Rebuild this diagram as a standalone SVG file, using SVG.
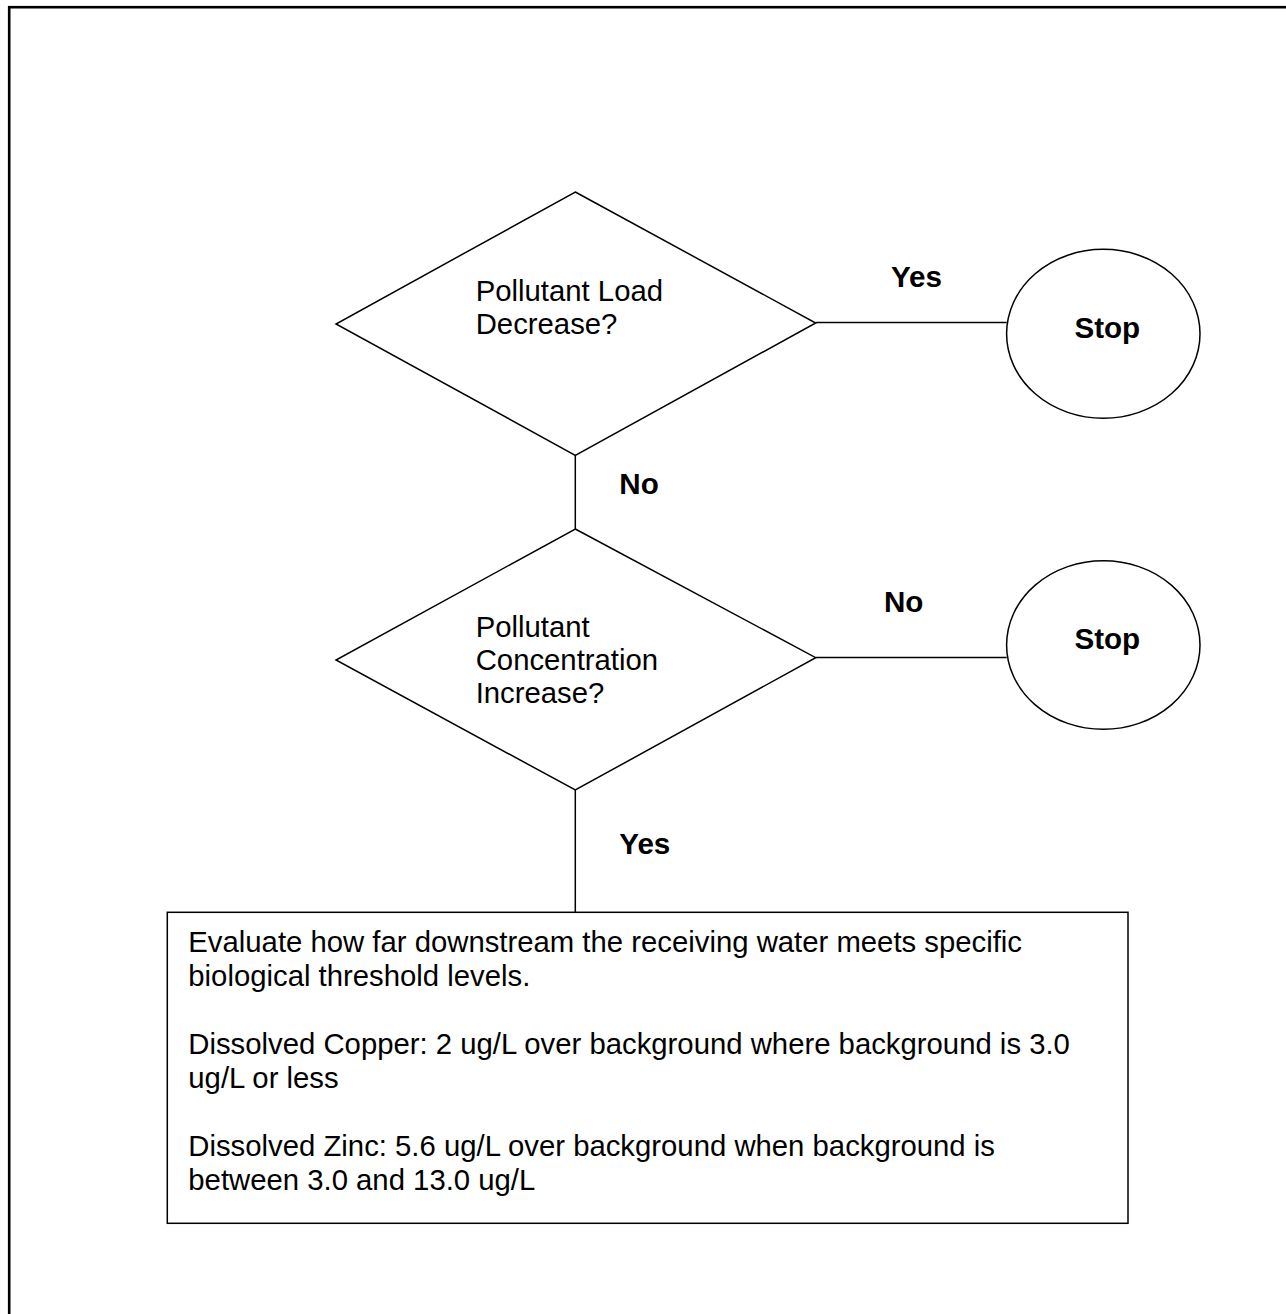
<svg xmlns="http://www.w3.org/2000/svg" width="1286" height="1314" viewBox="0 0 1286 1314">
<style>
.shape{fill:#fff;stroke:#000;stroke-width:1.5}
.conn{stroke:#000;stroke-width:1.5;fill:none}
.t{font-family:"Liberation Sans",Arial,sans-serif;font-size:29.3px;fill:#000}
.b{font-family:"Liberation Sans",Arial,sans-serif;font-size:29.6px;font-weight:bold;fill:#000}
</style>
<rect x="0" y="0" width="1286" height="1314" fill="#fff"/>
<rect x="9.2" y="7.2" width="1400" height="1400" fill="none" stroke="#000" stroke-width="2.6"/>
<g id="connectors">
<line class="conn" x1="815.7" y1="322.5" x2="1006.7" y2="322.5"/>
<line class="conn" x1="575.3" y1="455.3" x2="575.3" y2="529"/>
<line class="conn" x1="815.7" y1="657.5" x2="1006.7" y2="657.5"/>
<line class="conn" x1="575.3" y1="790" x2="575.3" y2="912"/>
<text class="b" x="891" y="287">Yes</text>
<text class="b" x="619.3" y="494.3">No</text>
<text class="b" x="884" y="612">No</text>
<text class="b" x="619.3" y="854">Yes</text>
</g>
<g id="decision1">
<polygon class="shape" points="575.3,192 815.7,323 575.3,455.3 336,324"/>
<text class="t" x="475.7" y="300.7">Pollutant Load</text>
<text class="t" x="475.7" y="334">Decrease?</text>
</g>
<g id="stop1">
<ellipse class="shape" cx="1103.3" cy="333.8" rx="96.7" ry="84.5"/>
<text class="b" x="1107.3" y="338.3" text-anchor="middle">Stop</text>
</g>
<g id="decision2">
<polygon class="shape" points="575.3,529 815.7,657.7 575.3,790 336,660"/>
<text class="t" x="475.7" y="636.7">Pollutant</text>
<text class="t" x="475.7" y="670">Concentration</text>
<text class="t" x="475.7" y="703.3">Increase?</text>
</g>
<g id="stop2">
<ellipse class="shape" cx="1103.3" cy="645" rx="96.7" ry="84.3"/>
<text class="b" x="1107.3" y="649.3" text-anchor="middle">Stop</text>
</g>
<g id="evaluate">
<rect class="shape" x="167.3" y="912.3" width="960.7" height="311"/>
<text class="t" x="188.3" y="951.7">Evaluate how far downstream the receiving water meets specific</text>
<text class="t" x="188.3" y="986">biological threshold levels.</text>
<text class="t" x="188.3" y="1054">Dissolved Copper: 2 ug/L over background where background is 3.0</text>
<text class="t" x="188.3" y="1088">ug/L or less</text>
<text class="t" x="188.3" y="1156">Dissolved Zinc: 5.6 ug/L over background when background is</text>
<text class="t" x="188.3" y="1190">between 3.0 and 13.0 ug/L</text>
</g>
</svg>
